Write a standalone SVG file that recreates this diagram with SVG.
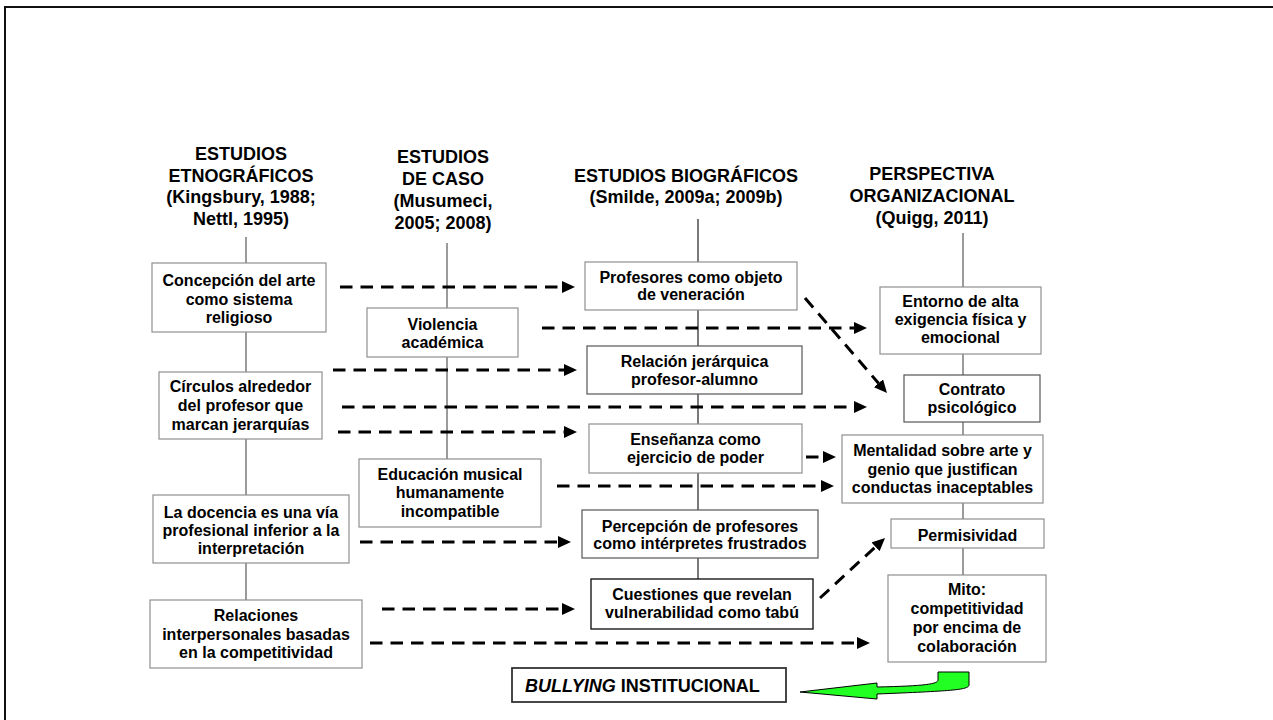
<svg xmlns="http://www.w3.org/2000/svg" width="1273" height="720" viewBox="0 0 1273 720">
<style>
.bg{fill:#fff}
.frame{fill:none;stroke:#111;stroke-width:2}
.box{fill:#fff;stroke:#8f8f8f;stroke-width:1.2}
.dk{stroke:#555}
.bk{stroke:#1a1a1a;stroke-width:1.4}
.t{font-family:"Liberation Sans",Arial,Helvetica,sans-serif;font-weight:bold;font-size:16px;text-anchor:middle;fill:#000}
.h{font-size:18px}
.vl{stroke:#666;stroke-width:1.3;fill:none}
.vl3{stroke:#222;stroke-width:1.2;fill:none}
.da{stroke:#000;stroke-width:3;stroke-dasharray:12.5 8;fill:none;marker-end:url(#ah)}
.green{fill:#22ff22;stroke:#000;stroke-width:1}
</style>
<defs>
<marker id="ah" markerUnits="userSpaceOnUse" markerWidth="13" markerHeight="12" refX="0" refY="6" orient="auto" viewBox="0 0 13 12">
<path d="M0,0 L13,6 L0,12 Z" fill="#000"/>
</marker>
</defs>
<rect class="bg" x="0" y="0" width="1273" height="720"/>
<path class="frame" d="M5,720 L5,7 L1273,7"/>

<g id="headers">
<text class="t h"><tspan x="241" y="160">ESTUDIOS</tspan><tspan x="241" y="182">ETNOGRÁFICOS</tspan><tspan x="241" y="203">(Kingsbury, 1988;</tspan><tspan x="241" y="225">Nettl, 1995)</tspan></text>
<text class="t h"><tspan x="443" y="163">ESTUDIOS</tspan><tspan x="443" y="185">DE CASO</tspan><tspan x="443" y="207">(Musumeci,</tspan><tspan x="443" y="229">2005; 2008)</tspan></text>
<text class="t h"><tspan x="686" y="182">ESTUDIOS BIOGRÁFICOS</tspan><tspan x="686" y="203">(Smilde, 2009a; 2009b)</tspan></text>
<text class="t h"><tspan x="932" y="180">PERSPECTIVA</tspan><tspan x="932" y="202">ORGANIZACIONAL</tspan><tspan x="932" y="224">(Quigg, 2011)</tspan></text>
</g>

<g id="connectors">
<path class="vl" d="M246,237 V263 M246,332 V372 M246,439 V495 M246,563 V600"/>
<path class="vl" d="M447,243 V308 M447,357 V459"/>
<path class="vl3" d="M698,219 V262 M698,310 V346 M698,394 V424 M698,473 V510 M698,558 V579"/>
<path class="vl" d="M963,233 V287 M963,354 V375 M963,422 V435 M963,503 V519 M963,548 V575"/>
<line class="da" x1="340" y1="287" x2="562" y2="287"/>
<line class="da" x1="542" y1="328" x2="854" y2="328"/>
<line class="da" x1="805" y1="298" x2="878.5" y2="383.2"/>
<line class="da" x1="333" y1="370" x2="564" y2="370"/>
<line class="da" x1="342" y1="407" x2="854" y2="407"/>
<line class="da" x1="338" y1="432" x2="564" y2="432"/>
<line class="da" x1="806" y1="457" x2="823" y2="457"/>
<line class="da" x1="557" y1="486" x2="821" y2="486"/>
<line class="da" x1="360" y1="542" x2="558" y2="542"/>
<line class="da" x1="820" y1="598" x2="875.5" y2="546.8"/>
<line class="da" x1="382" y1="609" x2="562" y2="609"/>
<line class="da" x1="370" y1="643" x2="857" y2="643"/>
<path id="green-arrow" class="green" d="M938,672 L969,672 L969,685 C969,690 950,691 877,694 L877,699 L800,692 L877,683 L877,687 C925,686 938,684 938,680 Z"/>
</g>

<g id="b1"><rect class="box" x="152" y="263" width="174" height="69"/><text class="t"><tspan x="239" y="286">Concepción del arte</tspan><tspan x="239" y="304.5">como sistema</tspan><tspan x="239" y="323">religioso</tspan></text></g>
<g id="b2"><rect class="box" x="159" y="372" width="163" height="67"/><text class="t"><tspan x="240.5" y="392">Círculos alrededor</tspan><tspan x="240.5" y="411">del profesor que</tspan><tspan x="240.5" y="430">marcan jerarquías</tspan></text></g>
<g id="b3"><rect class="box" x="153" y="495" width="196" height="68"/><text class="t"><tspan x="251" y="518">La docencia es una vía</tspan><tspan x="251" y="536">profesional inferior a la</tspan><tspan x="251" y="554">interpretación</tspan></text></g>
<g id="b4"><rect class="box" x="150" y="600" width="212" height="68"/><text class="t"><tspan x="256" y="621">Relaciones</tspan><tspan x="256" y="640">interpersonales basadas</tspan><tspan x="256" y="658">en la competitividad</tspan></text></g>

<g id="c2a"><rect class="box" x="367" y="308" width="151" height="49"/><text class="t"><tspan x="442.5" y="330">Violencia</tspan><tspan x="442.5" y="348">académica</tspan></text></g>
<g id="c2b"><rect class="box" x="359" y="459" width="182" height="68"/><text class="t"><tspan x="450" y="480">Educación musical</tspan><tspan x="450" y="498">humanamente</tspan><tspan x="450" y="517">incompatible</tspan></text></g>

<g id="c3a"><rect class="box" x="585" y="262" width="212" height="48"/><text class="t"><tspan x="691" y="283">Profesores como objeto</tspan><tspan x="691" y="300">de veneración</tspan></text></g>
<g id="c3b"><rect class="box dk" x="587" y="346" width="215" height="48"/><text class="t"><tspan x="694.5" y="367">Relación jerárquica</tspan><tspan x="694.5" y="385">profesor-alumno</tspan></text></g>
<g id="c3c"><rect class="box" x="589" y="424" width="213" height="49"/><text class="t"><tspan x="695.5" y="445">Enseñanza como</tspan><tspan x="695.5" y="463">ejercicio de poder</tspan></text></g>
<g id="c3d"><rect class="box dk" x="582" y="510" width="236" height="48"/><text class="t"><tspan x="700" y="532">Percepción de profesores</tspan><tspan x="700" y="549">como intérpretes frustrados</tspan></text></g>
<g id="c3e"><rect class="box bk" x="591" y="579" width="222" height="50"/><text class="t"><tspan x="702" y="600">Cuestiones que revelan</tspan><tspan x="702" y="618">vulnerabilidad como tabú</tspan></text></g>

<g id="d1"><rect class="box" x="880" y="287" width="161" height="67"/><text class="t"><tspan x="960.5" y="307">Entorno de alta</tspan><tspan x="960.5" y="325">exigencia física y</tspan><tspan x="960.5" y="343">emocional</tspan></text></g>
<g id="d2"><rect class="box dk" x="904" y="375" width="136" height="47"/><text class="t"><tspan x="972" y="395">Contrato</tspan><tspan x="972" y="413">psicológico</tspan></text></g>
<g id="d3"><rect class="box" x="842" y="435" width="201" height="68"/><text class="t"><tspan x="942.5" y="456">Mentalidad sobre arte y</tspan><tspan x="942.5" y="475">genio que justifican</tspan><tspan x="942.5" y="493">conductas inaceptables</tspan></text></g>
<g id="d4"><rect class="box" x="891" y="519" width="153" height="29"/><text class="t"><tspan x="967.5" y="541">Permisividad</tspan></text></g>
<g id="d5"><rect class="box" x="888" y="575" width="158" height="87"/><text class="t"><tspan x="967" y="595">Mito:</tspan><tspan x="967" y="614">competitividad</tspan><tspan x="967" y="633">por encima de</tspan><tspan x="967" y="652">colaboración</tspan></text></g>

<g id="bullying"><rect class="box" style="stroke:#333;stroke-width:1.8" x="512" y="668" width="274" height="34"/><text class="t h" style="text-anchor:start" x="525" y="692"><tspan font-style="italic">BULLYING</tspan> INSTITUCIONAL</text></g>
</svg>
